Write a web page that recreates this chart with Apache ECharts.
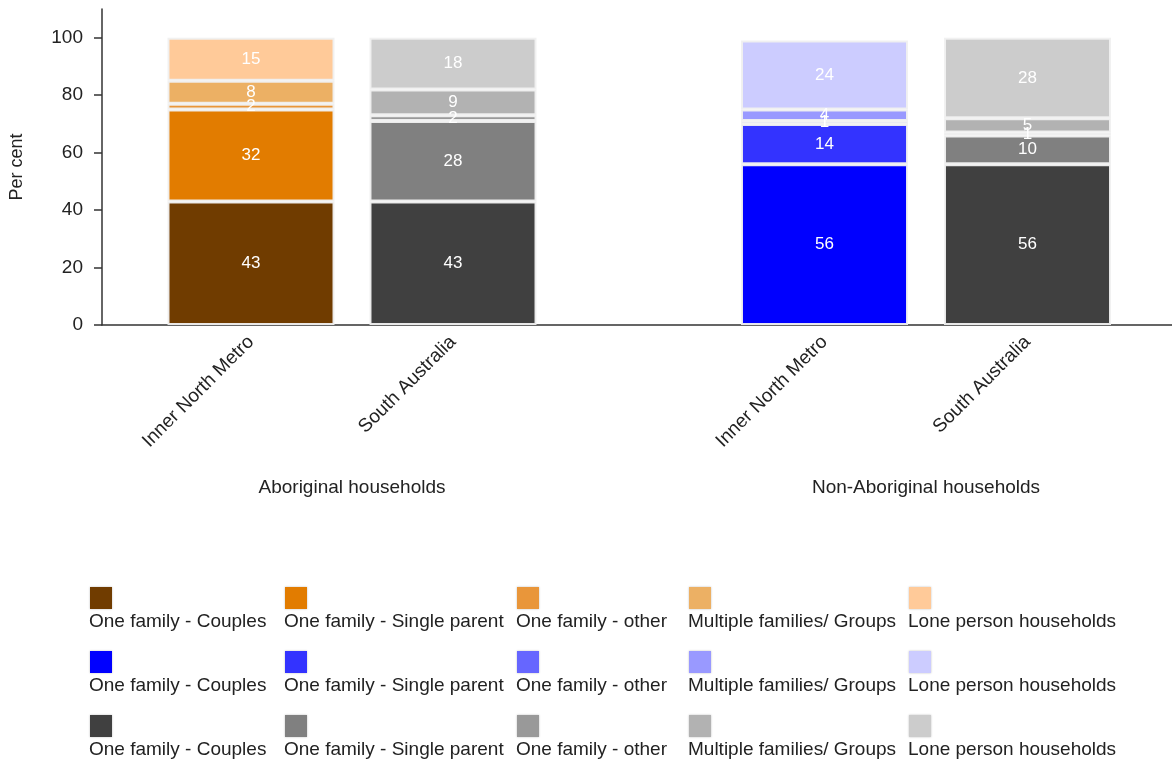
<!DOCTYPE html>
<html>
<head>
<meta charset="utf-8">
<script src="https://cdn.jsdelivr.net/npm/echarts@6/dist/echarts.min.js"></script>
<style>
  html, body { margin: 0; padding: 0; background: #ffffff; }
  #chart { width: 1172px; height: 764px; }
</style>
</head>
<body>
<div id="chart"></div>
<script>
// Household composition, per cent of households
const categories = ['Inner North Metro', 'South Australia'];
const groupNames = ['Aboriginal households', 'Non-Aboriginal households'];
const householdTypes = [
  'One family - Couples',
  'One family - Single parent',
  'One family - other',
  'Multiple families/ Groups',
  'Lone person households'
];
const aboriginalInnerNorth = [43, 32, 2, 8, 15];
const aboriginalSouthAustralia = [43, 28, 2, 9, 18];
const nonAboriginalInnerNorth = [56, 14, 1, 4, 24];
const nonAboriginalSouthAustralia = [56, 10, 1, 5, 28];
const yTicks = [0, 20, 40, 60, 80, 100];

const orangePalette = ['#703c00', '#e27c00', '#e9963a', '#ecb064', '#ffca99'];
const bluePalette = ['#0000ff', '#3333ff', '#6666ff', '#9999ff', '#ccccff'];
const greyPalette = ['#404040', '#808080', '#999999', '#b2b2b2', '#cccccc'];

const FONT = "'Liberation Sans', Arial, sans-serif";
const TEXT = '#222222';
const AXIS = '#333333';

const groups = [
  { inner: aboriginalInnerNorth, sa: aboriginalSouthAustralia, innerPalette: orangePalette },
  { inner: nonAboriginalInnerNorth, sa: nonAboriginalSouthAustralia, innerPalette: bluePalette }
];

// layout
const plotTop = 9, plotBottom = 439;
const groupGrids = [
  { left: 150, width: 404 },
  { left: 723, width: 406 }
];

const grid = [{ left: 100, right: 0, top: plotTop, bottom: plotBottom }]
  .concat(groupGrids.map(g => ({ left: g.left, width: g.width, top: plotTop, bottom: plotBottom })));

const xAxis = [{
  gridIndex: 0, type: 'value', min: 0, max: 1,
  axisLine: { show: true, lineStyle: { color: AXIS, width: 1.5 } },
  axisTick: { show: false }, axisLabel: { show: false }, splitLine: { show: false }
}].concat(groupNames.map((name, i) => ({
  gridIndex: i + 1, type: 'category', data: categories,
  name: name, nameLocation: 'middle', nameGap: 153,
  nameTextStyle: { fontFamily: FONT, fontSize: 19, color: TEXT },
  axisLine: { show: false }, axisTick: { show: false },
  axisLabel: { rotate: 45, margin: 14, fontFamily: FONT, fontSize: 19, color: TEXT }
})));

const yAxis = [{
  gridIndex: 0, type: 'value', min: 0, max: 110, interval: 10,
  name: 'Per cent', nameLocation: 'middle', nameGap: 76,
  nameTextStyle: { fontFamily: FONT, fontSize: 18, color: TEXT },
  axisLine: { show: true, lineStyle: { color: AXIS, width: 1.5 } },
  axisTick: { show: true, length: 8, customValues: yTicks, lineStyle: { color: AXIS, width: 1.5 } },
  axisLabel: {
    customValues: yTicks, margin: 19, fontFamily: FONT, fontSize: 19, color: TEXT,
    formatter: v => (v <= 100 ? String(v) : '')
  },
  splitLine: { show: false }
}].concat(groupNames.map((n, i) => ({
  gridIndex: i + 1, type: 'value', min: 0, max: 110, show: false
})));

const series = [];
groups.forEach((g, gi) => {
  householdTypes.forEach((type, t) => {
    series.push({
      type: 'bar',
      name: type,
      stack: 'group' + gi,
      xAxisIndex: gi + 1,
      yAxisIndex: gi + 1,
      barWidth: 167,
      itemStyle: { borderColor: 'rgba(240,240,240,0.95)', borderWidth: 2 },
      label: {
        show: true, position: 'inside', color: '#ffffff',
        fontFamily: FONT, fontSize: 17
      },
      data: [
        { value: g.inner[t], itemStyle: { color: g.innerPalette[t] } },
        { value: g.sa[t], itemStyle: { color: greyPalette[t] } }
      ]
    });
  });
});

// Legend: three rows (one per colour scheme), swatch above each label
const legendColumnX = [89, 284, 516, 688, 908];
const legendRowY = [587, 651, 715];
const legendPalettes = [orangePalette, bluePalette, greyPalette];
const graphic = [];
legendPalettes.forEach((pal, r) => {
  householdTypes.forEach((type, c) => {
    graphic.push({
      type: 'rect', left: legendColumnX[c] + 1, top: legendRowY[r],
      shape: { width: 22, height: 22 },
      style: { fill: pal[c], shadowBlur: 2, shadowColor: 'rgba(0,0,0,0.25)' }
    });
    graphic.push({
      type: 'text', left: legendColumnX[c], top: legendRowY[r] + 25,
      style: { text: type, font: '19px ' + FONT, fill: TEXT }
    });
  });
});

const chart = echarts.init(document.getElementById('chart'), null, { renderer: 'canvas' });
chart.setOption({
  animation: false,
  backgroundColor: '#ffffff',
  grid, xAxis, yAxis, series, graphic
});
</script>
</body>
</html>
